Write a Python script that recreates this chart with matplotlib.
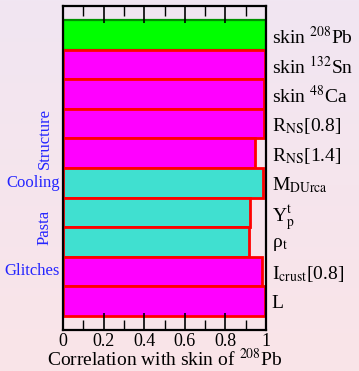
import numpy as np
import matplotlib
matplotlib.use("Agg")
import matplotlib.pyplot as plt
from matplotlib.ticker import MultipleLocator

plt.rcParams["font.family"] = ["Liberation Serif", "DejaVu Serif"]
plt.rcParams["mathtext.fontset"] = "stix"

# data, top to bottom
labels = [r"skin $^{208}$Pb", r"skin $^{132}$Sn", r"skin $^{48}$Ca",
          r"R$_{\rm NS}$[0.8]", r"R$_{\rm NS}$[1.4]", r"M$_{\rm DUrca}$",
          r"Y$_{\rm p}^{\rm t}$", r"ρ$_{\rm t}$", r"I$_{\rm crust}$[0.8]", "L"]
values = [1.0, 0.995, 0.99, 0.99, 0.946, 0.987, 0.921, 0.916, 0.979, 0.993]
colors = ["#00FF00", "#FF00FF", "#FF00FF", "#FF00FF", "#FF00FF",
          "#40E0D0", "#40E0D0", "#40E0D0", "#FF00FF", "#FF00FF"]
edges = ["#009000"] + ["#FF0000"] * 9
groups = ["Structure", "Cooling", "Pasta", "Glitches"]

fig = plt.figure(figsize=(3.59, 3.71), dpi=100)

# background gradient
bg = fig.add_axes([0, 0, 1, 1], zorder=-10)
top = np.array([241, 230, 242]) / 255
bot = np.array([250, 228, 232]) / 255
t = np.linspace(0, 1, 256)[:, None, None]
grad = top * (1 - t) + bot * t
bg.imshow(np.repeat(grad, 2, axis=1), aspect="auto", extent=[0, 1, 0, 1])
bg.axis("off")

ax = fig.add_axes([0.1755, 0.1105, 0.5655, 0.8733])
ax.set_facecolor("none")
n = len(values)
ypos = np.arange(n)[::-1]
for y, v, c, e in zip(ypos, values, colors, edges):
    ax.barh(y, v, height=1.0, color=c, edgecolor=e, linewidth=2.0 if e == "#FF0000" else 1.6)

ax.set_xlim(0, 1)
ax.set_ylim(-0.98, 9.98)
ax.set_yticks(ypos)
ax.set_yticklabels(labels)
ax.yaxis.tick_right()
ax.tick_params(axis="y", length=0, labelsize=14, pad=4)
ax.xaxis.set_minor_locator(MultipleLocator(0.1))
ax.set_xticks([0, 0.2, 0.4, 0.6, 0.8, 1.0])
ax.set_xticklabels(["0", "0.2", "0.4", "0.6", "0.8", "1"])
ax.tick_params(axis="x", which="major", direction="in", top=True, length=12, width=1.2, labelsize=13, pad=2)
ax.tick_params(axis="x", which="minor", direction="in", top=True, length=7, width=1.0)
for s in ax.spines.values():
    s.set_linewidth(1.6)
ax.set_xlabel(r"Correlation with skin of $^{208}$Pb", fontsize=14, labelpad=-1)

# group labels on the left
blue = "#2525FF"
tr = ax.get_yaxis_transform()
ax.text(-0.05, 5.5, groups[0], rotation=90, color=blue, fontsize=12,
        ha="right", va="center", transform=tr)
ax.text(-0.015, 4, groups[1], color=blue, fontsize=12,
        ha="right", va="center", transform=tr)
ax.text(-0.05, 2.5, groups[2], rotation=90, color=blue, fontsize=12,
        ha="right", va="center", transform=tr)
ax.text(-0.015, 1, groups[3], color=blue, fontsize=12,
        ha="right", va="center", transform=tr)

fig.savefig("out.png", dpi=100)
